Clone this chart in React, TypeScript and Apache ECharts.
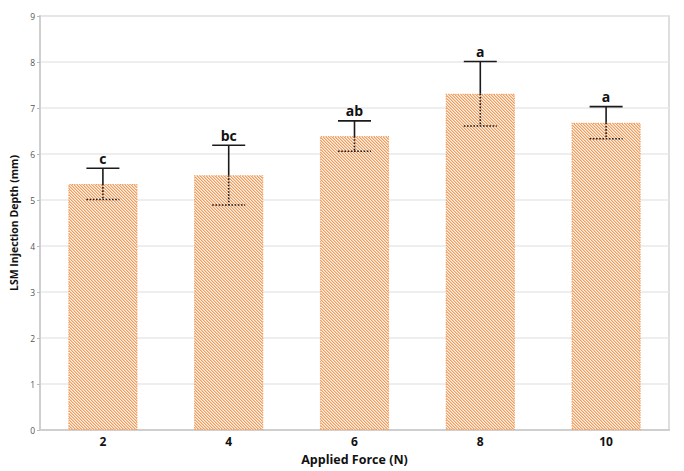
import React, { useEffect, useRef } from "react";
import * as echarts from "echarts";

const categories = ["2", "4", "6", "8", "10"];
const meanValues = [5.35, 5.54, 6.39, 7.31, 6.68];
const errorValues = [0.34, 0.65, 0.33, 0.7, 0.35];
const groupLetters = ["c", "bc", "ab", "a", "a"];
const yTicks = { min: 0, max: 9, interval: 1 };

function makeHatch(): HTMLCanvasElement {
  const p = 3;
  const cv = document.createElement("canvas");
  cv.width = p;
  cv.height = p;
  const ctx = cv.getContext("2d")!;
  ctx.fillStyle = "#fdf3ea";
  ctx.fillRect(0, 0, p, p);
  for (let k = 0; k < p; k++) {
    ctx.fillStyle = "#f09c5c";
    ctx.fillRect(k, k, 1, 1);
    ctx.fillStyle = "#f7c9a4";
    ctx.fillRect((k + 1) % p, k, 1, 1);
  }
  return cv;
}

export default function App() {
  const ref = useRef<HTMLDivElement>(null);
  useEffect(() => {
    if (!ref.current) return;
    document.body.style.margin = "0";
    const chart = echarts.init(ref.current, null, { renderer: "svg" });
    const font = "'Open Sans', 'Noto Sans', sans-serif";
    const errData = categories.map((_, i) => [i, meanValues[i], errorValues[i]]);
    const hatch = makeHatch();
    chart.setOption({
      animation: false,
      grid: { left: 40, right: 15, top: 16, bottom: 39, show: true, borderColor: "#d4d4d4", borderWidth: 1.5 },
      xAxis: {
        type: "category",
        data: categories,
        name: "Applied Force (N)",
        nameLocation: "middle",
        nameGap: 23,
        nameTextStyle: { fontFamily: font, fontWeight: "bold", fontSize: 12.5, color: "#111" },
        axisLine: { lineStyle: { color: "#cfcfcf", width: 2 } },
        axisTick: { show: false },
        axisLabel: { fontFamily: font, fontWeight: "bold", fontSize: 12, color: "#111", margin: 5 },
      },
      yAxis: {
        type: "value",
        min: yTicks.min,
        max: yTicks.max,
        interval: yTicks.interval,
        name: "LSM Injection Depth (mm)",
        nameLocation: "middle",
        nameGap: 19,
        nameTextStyle: { fontFamily: font, fontWeight: "bold", fontSize: 10.5, color: "#111" },
        axisLine: { show: true, lineStyle: { color: "#cfcfcf", width: 2 } },
        axisTick: { show: true, length: 3, lineStyle: { color: "#bbb" } },
        axisLabel: { fontFamily: font, fontSize: 8.5, color: "#555", margin: 5 },
        splitLine: { lineStyle: { color: "#e8e8e8", width: 1.5 } },
      },
      series: [
        {
          type: "bar",
          data: meanValues,
          barWidth: "55%",
          itemStyle: {
            color: { image: hatch, repeat: "repeat" },
            borderColor: "#f0a060",
            borderWidth: 1.2,
            borderType: "dotted",
          },
          z: 1,
        },
        {
          type: "custom",
          data: errData,
          z: 5,
          renderItem: (params: any, api: any) => {
            const i = api.value(0);
            const m = api.value(1);
            const e = api.value(2);
            const c = api.coord([i, m]);
            const hi = api.coord([i, m + e]);
            const lo = api.coord([i, m - e]);
            const hw = 16.5;
            const solid = { stroke: "#1a1a1a", lineWidth: 1.6 };
            const dotted = { stroke: "#1a1a1a", lineWidth: 1.6, lineDash: [1.6, 1.6] };
            return {
              type: "group",
              children: [
                { type: "line", shape: { x1: c[0], y1: hi[1], x2: c[0], y2: c[1] }, style: solid },
                { type: "line", shape: { x1: c[0] - hw, y1: hi[1], x2: c[0] + hw, y2: hi[1] }, style: solid },
                { type: "line", shape: { x1: c[0], y1: c[1], x2: c[0], y2: lo[1] }, style: dotted },
                { type: "line", shape: { x1: c[0] - hw, y1: lo[1], x2: c[0] + hw, y2: lo[1] }, style: dotted },
                {
                  type: "text",
                  style: {
                    text: groupLetters[params.dataIndex],
                    x: c[0],
                    y: hi[1] - 3,
                    align: "center",
                    verticalAlign: "bottom",
                    fontFamily: font,
                    fontWeight: "bold",
                    fontSize: 14,
                    fill: "#111",
                  },
                },
              ],
            };
          },
        },
      ],
    });
    return () => chart.dispose();
  }, []);
  return <div ref={ref} style={{ width: 684, height: 471 }} />;
}
